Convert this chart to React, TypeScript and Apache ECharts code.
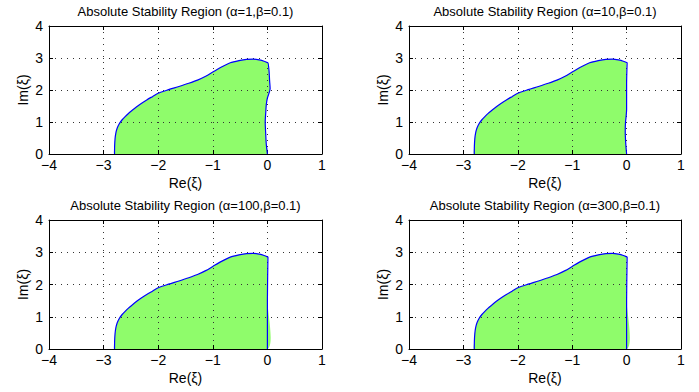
import React, { useEffect, useRef } from "react";
import * as echarts from "echarts";

const titles = [
  "Absolute Stability Region (α=1,β=0.1)",
  "Absolute Stability Region (α=10,β=0.1)",
  "Absolute Stability Region (α=100,β=0.1)",
  "Absolute Stability Region (α=300,β=0.1)",
];

const xTicks = [-4, -3, -2, -1, 0, 1];
const yTicks = [0, 1, 2, 3, 4];

// Upper boundary (shared shape)
const upperRe = [-2.8, -2.798, -2.79, -2.775, -2.755, -2.73, -2.7, -2.66, -2.61, -2.55, -2.48, -2.4, -2.31, -2.21, -2.1, -2.0, -1.81, -1.62, -1.44, -1.28, -1.13, -1.0, -0.85, -0.68, -0.52, -0.38, -0.26, -0.15, -0.06, 0.01];
const upperIm = [0, 0.25, 0.48, 0.66, 0.79, 0.89, 0.98, 1.07, 1.16, 1.26, 1.36, 1.47, 1.58, 1.69, 1.8, 1.9, 2.01, 2.11, 2.21, 2.31, 2.43, 2.56, 2.71, 2.85, 2.92, 2.96, 2.965, 2.94, 2.9, 2.85];

// Right boundary of each panel (top to bottom)
const right1Re = [0.02, 0.03, 0.04, 0.05, 0.03, 0.0, -0.02, -0.03, -0.04, -0.03, -0.02, 0.0];
const right1Im = [2.84, 2.6, 2.3, 2.05, 1.9, 1.75, 1.55, 1.3, 1.0, 0.6, 0.3, 0.0];
const right2Re = [0.0, 0.0, 0.0, -0.01, -0.02, -0.025, -0.02, -0.01, 0.0];
const right2Im = [2.86, 2.2, 1.4, 1.15, 1.0, 0.7, 0.45, 0.2, 0.0];
const right3Re = [0.0, 0.0, 0.0];
const right3Im = [2.85, 1.5, 0.0];
const right4Re = [0.0, 0.0, 0.0];
const right4Im = [2.85, 1.5, 0.0];

const rightRe = [right1Re, right2Re, right3Re, right4Re];
const rightIm = [right1Im, right2Im, right3Im, right4Im];

const FONT = "'Liberation Sans', Arial, Helvetica, sans-serif";

const grids = [
  { left: 49, top: 26, width: 273, height: 128 },
  { left: 409, top: 26, width: 272, height: 128 },
  { left: 49, top: 220, width: 273, height: 129 },
  { left: 409, top: 220, width: 272, height: 129 },
];

function fmt(v: number) {
  return v < 0 ? "\u2212" + Math.abs(v) : String(v);
}

export default function App() {
  const ref = useRef<HTMLDivElement>(null);
  useEffect(() => {
    if (!ref.current) return;
    const chart = echarts.init(ref.current, undefined, { renderer: "svg" });

    const xAxis: any[] = [];
    const yAxis: any[] = [];
    const series: any[] = [];
    const graphic: any[] = [];

    grids.forEach((g, i) => {
      xAxis.push({
        type: "value",
        gridIndex: i,
        min: xTicks[0],
        max: xTicks[xTicks.length - 1],
        interval: 1,
        position: "bottom",
        z: 3,
        name: "Re(ξ)",
        nameLocation: "middle",
        nameGap: 22,
        nameTextStyle: { color: "#000", fontFamily: FONT, fontSize: 14 },
        axisLine: { show: true, onZero: false, lineStyle: { color: "#000", width: 1 } },
        axisTick: { show: true, inside: true, length: 4, lineStyle: { color: "#000" } },
        axisLabel: { color: "#000", fontFamily: FONT, fontSize: 14, margin: 4, formatter: fmt },
        splitLine: { show: true, lineStyle: { color: "#333", type: [1, 5], width: 1 } },
      });
      xAxis.push({
        type: "value",
        gridIndex: i,
        min: xTicks[0],
        max: xTicks[xTicks.length - 1],
        interval: 1,
        position: "top",
        z: 3,
        axisLine: { show: true, onZero: false, lineStyle: { color: "#000", width: 1 } },
        axisTick: { show: true, inside: true, length: 4, lineStyle: { color: "#000" } },
        axisLabel: { show: false },
        splitLine: { show: false },
      });
      yAxis.push({
        type: "value",
        gridIndex: i,
        min: yTicks[0],
        max: yTicks[yTicks.length - 1],
        interval: 1,
        position: "left",
        z: 3,
        name: "Im(ξ)",
        nameLocation: "middle",
        nameGap: 19,
        nameRotate: 90,
        nameTextStyle: { color: "#000", fontFamily: FONT, fontSize: 14 },
        axisLine: { show: true, onZero: false, lineStyle: { color: "#000", width: 1 } },
        axisTick: { show: true, inside: true, length: 4, lineStyle: { color: "#000" } },
        axisLabel: { color: "#000", fontFamily: FONT, fontSize: 14, margin: 6, formatter: fmt },
        splitLine: { show: true, lineStyle: { color: "#333", type: [1, 5], width: 1 } },
      });
      yAxis.push({
        type: "value",
        gridIndex: i,
        min: yTicks[0],
        max: yTicks[yTicks.length - 1],
        interval: 1,
        position: "right",
        z: 3,
        axisLine: { show: true, onZero: false, lineStyle: { color: "#000", width: 1 } },
        axisTick: { show: true, inside: true, length: 4, lineStyle: { color: "#000" } },
        axisLabel: { show: false },
        splitLine: { show: false },
      });

      const pts: number[][] = [];
      upperRe.forEach((x, k) => pts.push([x, upperIm[k]]));
      rightRe[i].forEach((x, k) => pts.push([x, rightIm[i][k]]));

      series.push({
        type: "custom",
        xAxisIndex: 2 * i,
        yAxisIndex: 2 * i,
        z: 1,
        silent: true,
        clip: true,
        data: pts,
        encode: { x: 0, y: 1 },
        renderItem: (params: any, api: any) => {
          if (params.dataIndex !== 0) return null;
          const poly = pts.map((p) => api.coord(p));
          return {
            type: "polygon",
            shape: { points: poly, smooth: 0.2 },
            style: { fill: "#8ffc6b", stroke: "none" },
          };
        },
      });
      series.push({
        type: "line",
        xAxisIndex: 2 * i,
        yAxisIndex: 2 * i,
        z: 5,
        data: pts,
        showSymbol: false,
        symbol: "none",
        smooth: 0.25,
        lineStyle: { color: "#0000ff", width: 1.2 },
        silent: true,
      });

      graphic.push({
        type: "text",
        x: g.left + g.width / 2,
        y: g.top - 15,
        style: {
          text: titles[i],
          fill: "#000",
          font: `13px ${FONT}`,
          textAlign: "center",
          textVerticalAlign: "middle",
        },
      });
    });

    const grid = grids.map((g) => ({ ...g, containLabel: false }));

    chart.setOption({
      animation: false,
      backgroundColor: "#fff",
      grid,
      xAxis,
      yAxis,
      series,
      graphic,
    });
    return () => chart.dispose();
  }, []);

  return (
    <div
      ref={ref}
      style={{ position: "fixed", left: 0, top: 0, width: 699, height: 392 }}
    />
  );
}
